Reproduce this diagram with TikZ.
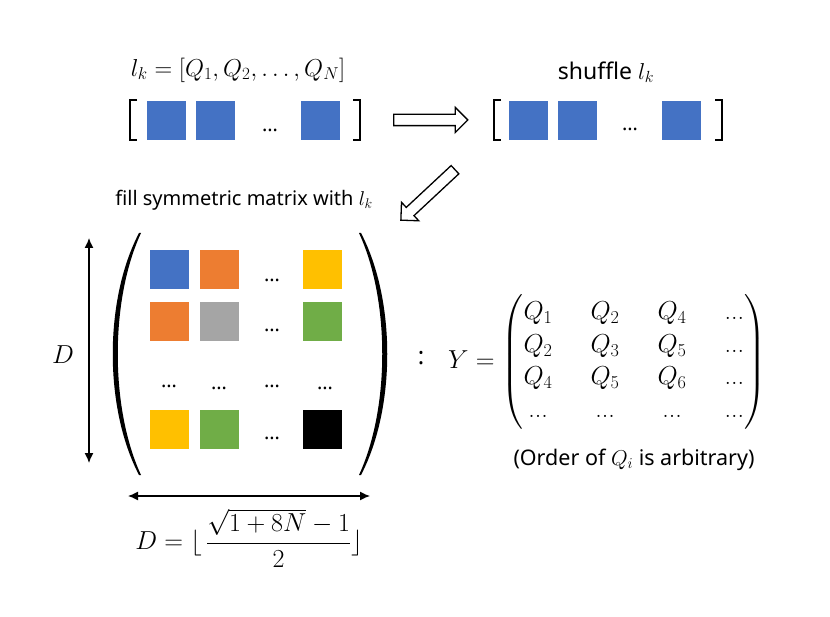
\RequirePackage{fix-cm}
\documentclass[tikz,border=0pt]{standalone}
\usepackage{amsmath}
\usepackage{fontspec}
\newfontfamily\sansfont{Noto Sans}
\usetikzlibrary{arrows.meta,shapes,positioning}
\definecolor{qblue}{HTML}{4472C4}
\definecolor{qorange}{HTML}{ED7D31}
\definecolor{qgray}{HTML}{A5A5A5}
\definecolor{qyellow}{HTML}{FFC000}
\definecolor{qgreen}{HTML}{70AD47}
\tikzset{
  cell/.style={rectangle, minimum size=40pt, inner sep=0pt, draw=white, line width=0.6pt, fill=#1},
  hollowarrow/.style={single arrow, draw, line width=1.3pt, fill=white, minimum height=74pt, minimum width=24pt, inner sep=5pt, single arrow head extend=7pt},
  dimarrow/.style={<->, line width=1.3pt, >={Latex[length=10pt,width=9pt]}},
  sqbracket/.style={line width=2.4pt},
  lbl/.style={font=\sansfont\fontsize{23}{27}\selectfont},
  dotlbl/.style={font=\sansfont\fontsize{20}{24}\selectfont, inner sep=1pt},
  bigmath/.style={font=\fontsize{26}{31}\selectfont}
}

\begin{document}
\begin{tikzpicture}[x=1pt, y=-1pt]
\useasboundingbox (0,0) rectangle (830,617);

% list l_k
\node (lkdef) [font=\fontsize{24.5}{29}\selectfont] at (238,70) {$l_k = [Q_1, Q_2, \dots, Q_N]$};
\draw[sqbracket] (137,100) -- (130,100) -- (130,140) -- (137,140);
\node (a1) [cell=qblue] at (166,120) {};
\node (a2) [cell=qblue] at (215,120) {};
\node (adots) [dotlbl] at (270,130) {…};
\node (an) [cell=qblue] at (320,120) {};
\draw[sqbracket] (353,100) -- (360,100) -- (360,140) -- (353,140);

% shuffled list
\node (shuf) [lbl] at (606,72) {shuffle $l_k$};
\draw[sqbracket] (501,100) -- (494,100) -- (494,140) -- (501,140);
\node (b1) [cell=qblue] at (528,120) {};
\node (b2) [cell=qblue] at (577,120) {};
\node (bdots) [dotlbl] at (630,129) {…};
\node (bn) [cell=qblue] at (681,120) {};
\draw[sqbracket] (715,100) -- (722,100) -- (722,140) -- (715,140);

% transitions
\node (step1) [hollowarrow] at (428,120) {};
\node (step2) [hollowarrow, rotate=223] at (430,193) {};
\node (fill) [lbl, font=\sansfont\fontsize{20}{24}\selectfont] at (244,200) {fill symmetric matrix with $l_k$};

% symmetric matrix of colours
\fill (139,233) .. controls (104,300) and (104,408) .. (139,475) -- (141,475) .. controls (110,408) and (110,300) .. (141,233) -- cycle;
\fill (361,233) .. controls (396,300) and (396,408) .. (361,475) -- (359,475) .. controls (390,408) and (390,300) .. (359,233) -- cycle;
\node (m11) [cell=qblue] at (169,269) {};
\node (m12) [cell=qorange] at (219,269) {};
\node (m13) [dotlbl] at (272,280) {…};
\node (m14) [cell=qyellow] at (322,269) {};
\node (m21) [cell=qorange] at (169,321) {};
\node (m22) [cell=qgray] at (219,321) {};
\node (m23) [dotlbl] at (272,330) {…};
\node (m24) [cell=qgreen] at (322,321) {};
\node (m31) [dotlbl] at (169,386) {…};
\node (m32) [dotlbl] at (219,388) {…};
\node (m33) [dotlbl] at (272,386) {…};
\node (m34) [dotlbl] at (325,388) {…};
\node (m41) [cell=qyellow] at (169,429) {};
\node (m42) [cell=qgreen] at (219,429) {};
\node (m43) [dotlbl] at (272,438) {…};
\node (m44) [cell=black] at (322,429) {};

% size D
\coordinate (vtop) at (89,238);
\coordinate (vbot) at (89,463);
\draw[dimarrow] (vtop) -- (vbot);
\node (dlabel) [bigmath] at (63,355) {$D$};
\coordinate (hleft) at (128,496);
\coordinate (hright) at (370,496);
\draw[dimarrow] (hleft) -- (hright);
\node (dform) [bigmath] at (249,538) {$D = \lfloor\, \dfrac{\sqrt{1+8N}-1}{2} \rfloor$};

% matrix Y
\node (colon) [lbl, font=\sansfont\fontsize{24}{28}\selectfont] at (421,358) {:};
\node (ymat) [font=\fontsize{26}{31}\selectfont] at (607,362) {$Y = \setlength\arraycolsep{19pt}\renewcommand\arraystretch{1.05}\begin{pmatrix} Q_1 & Q_2 & Q_4 & \text{...}\\ Q_2 & Q_3 & Q_5 & \text{...}\\ Q_4 & Q_5 & Q_6 & \text{...}\\ \text{...} & \text{...} & \text{...} & \text{...} \end{pmatrix}$};
\node (order) [lbl, font=\sansfont\fontsize{21.5}{25}\selectfont] at (634,460) {(Order of $Q_i$ is arbitrary)};
\end{tikzpicture}
\end{document}
